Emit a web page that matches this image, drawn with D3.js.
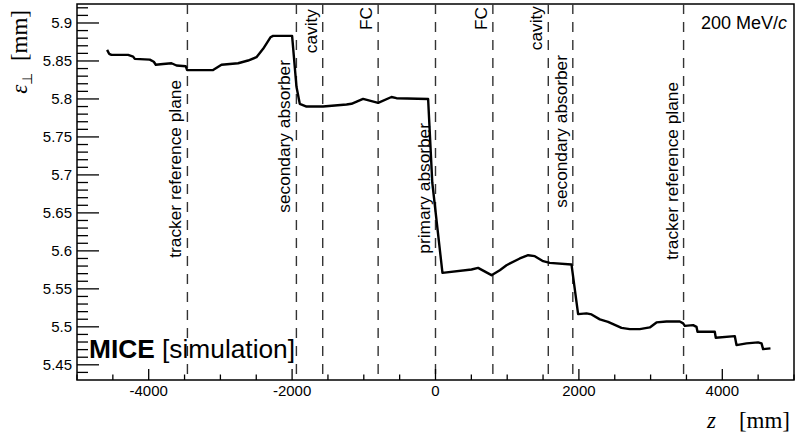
<!DOCTYPE html>
<html><head><meta charset="utf-8">
<script src="https://cdn.jsdelivr.net/npm/d3@7"></script>
<style>body{margin:0;background:#fff}svg{display:block}</style>
</head><body>
<svg id="c" width="795" height="441"></svg>
<script>
// ---- data ----
const zValues = [-4580,-4552,-4519,-4287,-4217,-4194,-3985,-3929,-3901,-3799,-3682,-3612,-3483,-3464,-3102,-2985,-2753,-2614,-2497,-2404,-2302,-2265,-2000,-1939,-1893,-1799,-1568,-1241,-1172,-1010,-800,-614,-544,-103,-45,97,502,594,781,897,990,1176,1292,1385,1501,1594,1897,1989,2106,2176,2292,2407,2594,2710,2849,2989,3082,3222,3407,3454,3477,3593,3640,3654,3895,3909,4174,4198,4338,4499,4547,4569,4672];
const emittance = [5.8646,5.8594,5.858,5.858,5.8558,5.8527,5.8518,5.849,5.845,5.846,5.847,5.844,5.843,5.838,5.838,5.845,5.847,5.8506,5.855,5.866,5.8812,5.883,5.883,5.816,5.7936,5.790,5.790,5.7927,5.7936,5.800,5.7948,5.8026,5.801,5.800,5.690,5.571,5.5755,5.5776,5.568,5.5746,5.5811,5.590,5.5943,5.593,5.5864,5.5842,5.582,5.5167,5.5177,5.5163,5.5098,5.5066,5.4987,5.497,5.497,5.4992,5.5058,5.507,5.507,5.5045,5.5013,5.5023,5.500,5.4935,5.4935,5.4856,5.4878,5.476,5.4782,5.4795,5.4782,5.4707,5.4717];
const markerZ = [-3460,-1940,-1573,-800,0,800,1573,1915,3460];
const markerLabels = ["tracker reference plane","secondary absorber","cavity","FC","primary absorber","FC","cavity","secondary absorber","tracker reference plane"];
const xTickValues = [-4000,-2000,0,2000,4000];
const yTickValues = [5.45,5.5,5.55,5.6,5.65,5.7,5.75,5.8,5.85,5.9];

// ---- layout ----
const labelTopPx = [80,60,9,7,123,7,6,55,82];
const L = 77, R = 794, T = 4, B = 380;
const svg = d3.select("#c");
const x = d3.scaleLinear().domain([-5000,5000]).range([L,R]);
const y = d3.scaleLinear().domain([5.43,5.925]).range([B,T]);

// frame
svg.append("rect").attr("x",L).attr("y",T).attr("width",R-L).attr("height",B-T)
  .attr("fill","none").attr("stroke","#000").attr("stroke-width",1.5);

// dashed markers
svg.append("g").selectAll("line").data(markerZ).join("line")
  .attr("x1",d=>x(d)).attr("x2",d=>x(d)).attr("y1",T).attr("y2",B)
  .attr("stroke","#333").attr("stroke-width",1.4).attr("stroke-dasharray","10,8");

// marker labels
svg.append("g").selectAll("text").data(markerLabels).join("text")
  .attr("transform",(d,i)=>`translate(${x(markerZ[i])-6},${labelTopPx[i]}) rotate(-90)`)
  .attr("text-anchor","end")
  .attr("font-family","Liberation Sans, Arial, sans-serif").attr("font-size",17.3)
  .text(d=>d);

// x axis ticks (inside)
const xMinor = d3.range(-5000,5001,500);
svg.append("g").selectAll("line").data(xMinor).join("line")
  .attr("x1",d=>x(d)).attr("x2",d=>x(d)).attr("y1",B)
  .attr("y2",d=>B-(d%2000===0?11:5.5)).attr("stroke","#000").attr("stroke-width",1.3);
svg.append("g").selectAll("text").data(xTickValues).join("text")
  .attr("x",d=>x(d)).attr("y",B+16).attr("text-anchor","middle")
  .attr("font-family","Liberation Sans, Arial, sans-serif").attr("font-size",15)
  .text(d=>d3.format("d")(d).replace("−","-"));

// y axis ticks (inside)
const yMinor = d3.range(5.44,5.925,0.01).map(v=>Math.round(v*100)/100);
svg.append("g").selectAll("line").data(yMinor).join("line")
  .attr("x1",L).attr("x2",d=>L+(Math.round(d*100)%5===0?22:11))
  .attr("y1",d=>y(d)).attr("y2",d=>y(d)).attr("stroke","#000").attr("stroke-width",1.3);
svg.append("g").selectAll("text").data(yTickValues).join("text")
  .attr("x",L-5).attr("y",d=>y(d)+5.3).attr("text-anchor","end")
  .attr("font-family","Liberation Sans, Arial, sans-serif").attr("font-size",15)
  .text(d=>d3.format("~g")(d));

// curve
const line = d3.line().x(d=>x(d[0])).y(d=>y(d[1]));
svg.append("path").datum(zValues.map((z,i)=>[z,emittance[i]]))
  .attr("d",line).attr("fill","none").attr("stroke","#000").attr("stroke-width",2.4)
  .attr("stroke-linejoin","round");

// axis titles
const yt = svg.append("text").attr("transform","translate(27,10) rotate(-90)")
  .attr("text-anchor","end").attr("font-family","Liberation Serif, serif").attr("font-size",23);
yt.append("tspan").attr("font-style","italic").text("ε");
yt.append("tspan").attr("font-size",14).attr("dy",5).text("⊥");
yt.append("tspan").attr("dy",-5).text("\u2002[mm]");

const xt = svg.append("text").attr("x",790).attr("y",428).attr("text-anchor","end")
  .attr("font-family","Liberation Serif, serif").attr("font-size",23);
xt.append("tspan").attr("font-style","italic").text("z");
xt.append("tspan").text("\u2003[mm]");

// annotations
const mt = svg.append("text").attr("x",89).attr("y",358)
  .attr("font-family","Liberation Sans, Arial, sans-serif").attr("font-size",26.3);
mt.append("tspan").attr("font-weight","bold").text("MICE");
mt.append("tspan").text(" [simulation]");

const pt = svg.append("text").attr("x",787).attr("y",29).attr("text-anchor","end")
  .attr("font-family","Liberation Sans, Arial, sans-serif").attr("font-size",18);
pt.append("tspan").text("200 MeV/");
pt.append("tspan").attr("font-style","italic").text("c");
</script>
</body></html>
